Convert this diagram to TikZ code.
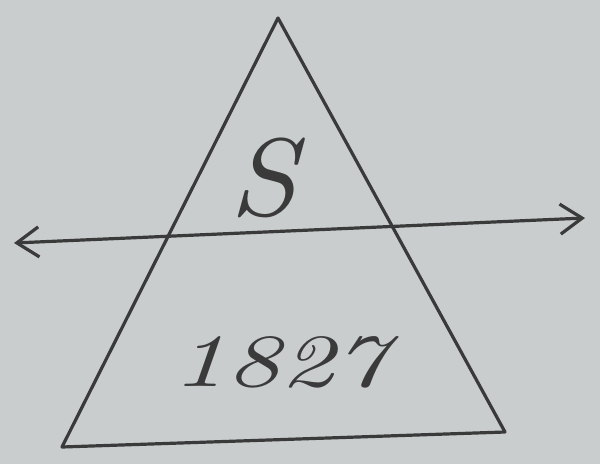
\documentclass[tikz,border=0pt]{standalone}
\usetikzlibrary{arrows.meta}
\definecolor{paper}{HTML}{C9CDCD}
\definecolor{ink}{HTML}{3A3A3A}
\tikzset{
  pen/.style={draw=ink, line width=3.2pt, line cap=round, line join=round},
  hand/.style={text=ink, font=\itshape}
}
\begin{document}
\begin{tikzpicture}[x=1pt,y=-1pt]
\fill[paper] (0,0) rectangle (600,464);
\useasboundingbox (0,0) rectangle (600,464);
\coordinate (A) at (278,18);
\coordinate (B) at (62,447);
\coordinate (C) at (505,432);
\coordinate (L) at (14,243);
\coordinate (R) at (585,218);
\draw[pen] (A) -- (B) -- (C) -- cycle;
\draw[pen, {Straight Barb[length=22pt,width=30pt]}-{Straight Barb[length=22pt,width=30pt]}] (L) -- (R);
\node[hand, xscale=12, yscale=11] (s) at (263,178) {S};
\node[hand, xscale=10.5, yscale=7.5] (n) at (280,362) {1827};
\end{tikzpicture}
\end{document}
